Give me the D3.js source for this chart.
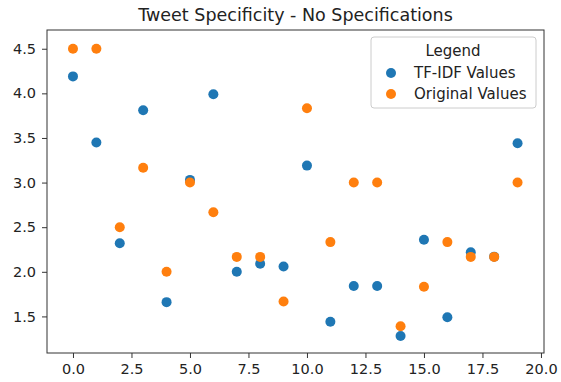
<!DOCTYPE html>
<html>
<head>
<meta charset="utf-8">
<script src="https://cdn.jsdelivr.net/npm/d3@7"></script>
<style>
  body { margin: 0; background: #fff; }
  svg { display: block; font-family: "DejaVu Sans", sans-serif; }
</style>
</head>
<body>
<div id="chart"></div>
<script>
const width = 561;
const height = 382;

// data
const tweetIndex = d3.range(20);
const tfidfValues = [4.19, 3.45, 2.32, 3.81, 1.66, 3.03, 3.99, 2.0, 2.09, 2.06,
                     3.19, 1.44, 1.84, 1.84, 1.28, 2.36, 1.49, 2.22, 2.17, 3.44];
const originalValues = [4.5, 4.5, 2.5, 3.167, 2.0, 3.0, 2.667, 2.167, 2.167, 1.667,
                        3.833, 2.333, 3.0, 3.0, 1.389, 1.833, 2.333, 2.167, 2.167, 3.0];
const xTicks = [0, 2.5, 5, 7.5, 10, 12.5, 15, 17.5, 20];
const yTicks = [1.5, 2.0, 2.5, 3.0, 3.5, 4.0, 4.5];
const seriesNames = ["TF-IDF Values", "Original Values"];
const seriesColors = ["#1f77b4", "#ff7f0e"];

const margin = {top: 30, right: 17, bottom: 29, left: 47};

const svg = d3.select("#chart").append("svg")
    .attr("width", width)
    .attr("height", height);

const x = d3.scaleLinear()
    .domain([-1.11, 20.13])
    .range([margin.left, width - margin.right]);

const y = d3.scaleLinear()
    .domain([1.09, 4.71])
    .range([height - margin.bottom, margin.top]);

// title
svg.append("text")
    .attr("x", (margin.left + width - margin.right) / 2)
    .attr("y", 21)
    .attr("text-anchor", "middle")
    .style("font-size", "17.5px")
    .style("fill", "#222")
    .text("Tweet Specificity - No Specifications");

// axes
const xAxis = svg.append("g")
    .attr("transform", `translate(0,${height - margin.bottom})`)
    .call(d3.axisBottom(x).tickValues(xTicks).tickFormat(d3.format(".1f"))
        .tickSize(5).tickPadding(6).tickSizeOuter(0));

const yAxis = svg.append("g")
    .attr("transform", `translate(${margin.left},0)`)
    .call(d3.axisLeft(y).tickValues(yTicks).tickFormat(d3.format(".1f"))
        .tickSize(5).tickPadding(6).tickSizeOuter(0));

[xAxis, yAxis].forEach(a => {
    a.select(".domain").remove();
    a.selectAll("line").attr("stroke", "#333");
    a.selectAll("text")
        .style("font-size", "14.5px")
        .style("font-family", "DejaVu Sans, sans-serif")
        .attr("fill", "#222");
});

// frame
svg.append("rect")
    .attr("x", margin.left)
    .attr("y", margin.top)
    .attr("width", width - margin.left - margin.right)
    .attr("height", height - margin.top - margin.bottom)
    .attr("fill", "none")
    .attr("stroke", "#333")
    .attr("stroke-width", 1);

// points
const series = [tfidfValues, originalValues];
series.forEach((vals, i) => {
    svg.append("g")
        .selectAll("circle")
        .data(tweetIndex)
        .join("circle")
        .attr("cx", d => x(d))
        .attr("cy", d => y(vals[d]))
        .attr("r", 5)
        .attr("fill", seriesColors[i]);
});

// legend
const legend = svg.append("g")
    .attr("transform", "translate(371,37)");

legend.append("rect")
    .attr("width", 165)
    .attr("height", 71)
    .attr("rx", 3)
    .attr("fill", "#fff")
    .attr("fill-opacity", 0.8)
    .attr("stroke", "#ccc");

legend.append("text")
    .attr("x", 82)
    .attr("y", 19)
    .attr("text-anchor", "middle")
    .style("font-size", "15px")
    .style("fill", "#222")
    .text("Legend");

seriesNames.forEach((name, i) => {
    const row = legend.append("g")
        .attr("transform", `translate(0,${36 + i * 21})`);
    row.append("circle")
        .attr("cx", 20)
        .attr("cy", 0)
        .attr("r", 5)
        .attr("fill", seriesColors[i]);
    row.append("text")
        .attr("x", 43)
        .attr("y", 0)
        .attr("dy", "0.35em")
        .style("font-size", "15px")
        .style("fill", "#222")
        .text(name);
});
</script>
</body>
</html>
